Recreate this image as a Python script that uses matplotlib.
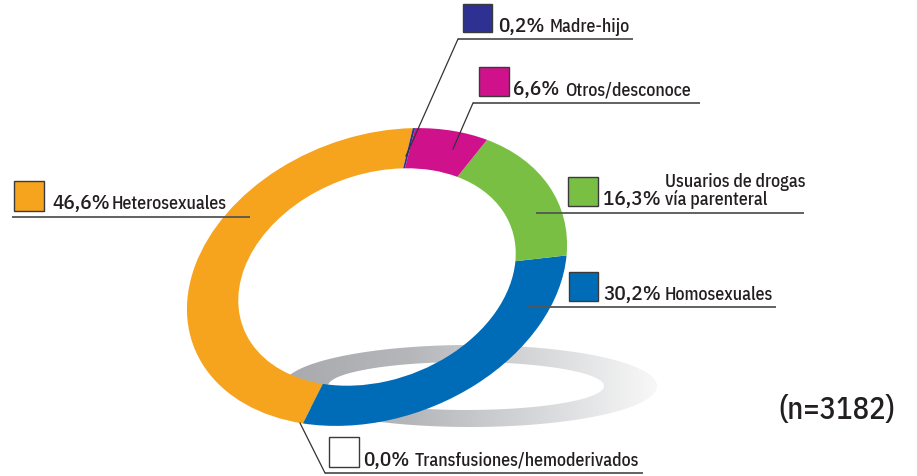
import numpy as np
import matplotlib
matplotlib.use("Agg")
import matplotlib.pyplot as plt
from matplotlib.transforms import Affine2D
from matplotlib.patches import Rectangle, Polygon

# ---- data ----
categories = ["Heterosexuales", "Transfusiones/hemoderivados", "Homosexuales",
              "Usuarios de drogas\nvía parenteral", "Otros/desconoce", "Madre-hijo"]
values = [46.6, 0.0, 30.2, 16.3, 6.6, 0.2]
pct_labels = ["46,6%", "0,0%", "30,2%", "16,3%", "6,6%", "0,2%"]
colors = ["#F6A31E", "#FFFFFF", "#006CB7", "#78BF44", "#CF128C", "#2E3192"]
n_label = "(n=3182)"

W, H = 917, 476
FONT = ["IBM Plex Sans Condensed", "DejaVu Sans"]
TXT = "#231F20"

fig = plt.figure(figsize=(W / 100, H / 100), dpi=100)
ax = fig.add_axes([0, 0, 1, 1])


def Y(y):
    return H - y


# ---- shadow ring with gradient ----
t = np.linspace(0, 2 * np.pi, 400)
ocx, ocy, oa, ob = 470, Y(386), 187, 41
icx, icy, ia, ib = 466, Y(386), 138, 24
outer = np.column_stack([ocx + oa * np.cos(t), ocy + ob * np.sin(t)])
inner = np.column_stack([icx + ia * np.cos(t), icy + ib * np.sin(t)])[::-1]
ring = Polygon(np.vstack([outer, inner]), closed=True, facecolor="none", edgecolor="none")
ax.add_patch(ring)
grad = np.linspace(0, 1, 256)[None, :]
im = ax.imshow(grad, extent=[ocx - oa, ocx + oa, ocy - ob, ocy + ob], cmap=matplotlib.colors.LinearSegmentedColormap.from_list(
    "g", ["#A9AAAE", "#B5B6B9", "#D5D6D8", "#F8F8F8"]), aspect="auto", zorder=1)
im.set_clip_path(ring)

# ---- donut (ellipse via affine transform) ----
wedges, _ = ax.pie(values, colors=colors, startangle=64, counterclock=True,
                   wedgeprops=dict(width=0.27, linewidth=0), normalize=True)
aff = Affine2D().scale(196, 141).rotate_deg(20.6).translate(377, Y(277))
for w in wedges:
    w.set_transform(aff + ax.transData)
    w.set_zorder(3)

# ---- labels ----
PCT_FS, LAB_FS = 15.2, 12.8


def label(sq, pct, px, name, nx, base, uline, leader=None, fc="#FFFFFF", two=None):
    x0, y0, x1, y1 = sq
    ax.add_patch(Rectangle((x0, Y(y1)), x1 - x0, y1 - y0, facecolor=fc,
                           edgecolor="#3a3a3a", lw=1.0, zorder=5))
    ax.text(px, Y(base), pct, fontsize=PCT_FS, family=FONT, weight="medium",
            color=TXT, va="baseline", zorder=5)
    lines = name.split("\n")
    ys = [base] if two is None else two
    for ln, yy in zip(lines, ys):
        ax.text(nx, Y(yy), ln, fontsize=LAB_FS, family=FONT, weight="medium",
                color=TXT, va="baseline", zorder=5)
    ux0, ux1, uy = uline
    ax.plot([ux0, ux1], [Y(uy), Y(uy)], color="#555555", lw=1.3, zorder=6, solid_capstyle="butt")
    if leader is not None:
        ax.plot([leader[0], leader[2]], [Y(leader[1]), Y(leader[3])], color="#333333", lw=0.9, zorder=6)


label((463, 4, 492, 32), pct_labels[5], 498, categories[5], 550, 32, (458, 633, 39),
      leader=(458, 39, 406, 156), fc=colors[5])
label((479, 67, 509, 96), pct_labels[4], 513, categories[4], 565, 95, (473, 700, 103),
      leader=(473, 103, 453, 149), fc=colors[4])
label((568, 177, 598, 206), pct_labels[3], 603, categories[3], 665, 205, (536, 804, 213),
      fc=colors[3], two=(187, 205))
label((569, 272, 598, 301), pct_labels[2], 603, categories[2], 665, 300, (527, 776, 307),
      fc=colors[2])
label((14, 181, 44, 211), pct_labels[0], 52, categories[0], 112, 209, (12, 250, 217),
      fc=colors[0])
label((329, 437, 359, 467), pct_labels[1], 363, categories[1], 415, 466, (325, 643, 473),
      leader=(325, 473, 300, 423), fc=colors[1])

ax.text(778, Y(410), n_label, fontsize=22, family=FONT, weight="medium",
        color=TXT, va="center", ha="left")

ax.set_xlim(0, W)
ax.set_ylim(0, H)
ax.set_aspect("auto")
ax.axis("off")
fig.savefig("out.png", dpi=100)
